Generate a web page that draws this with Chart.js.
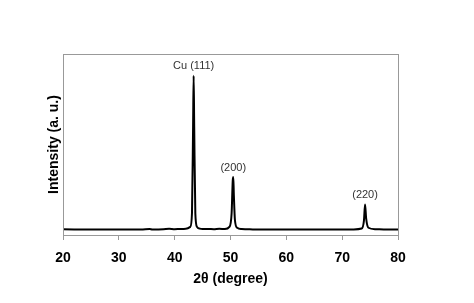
<!DOCTYPE html>
<html>
<head>
<meta charset="utf-8">
<script src="https://cdn.jsdelivr.net/npm/chart.js@4/dist/chart.umd.min.js"></script>
<style>
    html, body { margin: 0; padding: 0; background: #fff; }
    #wrap { width: 474px; height: 303px; }
</style>
</head>
<body>
<div id="wrap"><canvas id="xrdChart" width="474" height="303"></canvas></div>
<script>
// 2theta positions (degree) and intensity (a. u.)
const twoTheta = [20, 22, 24, 26, 28, 30, 32, 34, 35.5, 36, 38, 39, 40, 41, 42, 42.8, 43.1, 43.3, 43.4, 43.5, 43.7, 44, 44.5,
    45, 46, 47, 48, 49, 49.8, 50.2, 50.4, 50.5, 50.6, 50.8, 51.2, 52, 54, 56, 58, 60, 62, 64, 66, 68, 70, 72,
    73.5, 73.9, 74.1, 74.3, 74.7, 76, 78, 80];
const intensity = [3.2, 3.1, 3.0, 3.1, 3.0, 3.0, 3.1, 3.0, 3.3, 3.1, 3.2, 3.4, 3.2, 3.3, 3.4, 4.5, 12, 60, 88, 60, 12, 4.5, 3.5,
    3.3, 3.3, 3.2, 3.4, 3.3, 4.5, 12, 30, 32, 22, 8, 4, 3.3, 3.1, 3.0, 3.0, 3.0, 3.1, 3.0, 3.0, 3.1, 3.0, 3.1,
    3.6, 8, 16.8, 9, 4, 3.2, 3.0, 3.1];

// peak labels
const peakLabels = ['Cu (111)', '(200)', '(220)'];
const peakPos = [43.4, 50.5, 74.1];
const peakHeight = [88, 32, 16.8];

const xTicks = [20, 30, 40, 50, 60, 70, 80];

const points = twoTheta.map((t, i) => ({ x: t, y: intensity[i] }));

const frameAndLabels = {
    id: 'frameAndLabels',
    afterDatasetsDraw(chart) {
        const ctx = chart.ctx;
        const a = chart.chartArea;
        const xs = chart.scales.x, ys = chart.scales.y;
        ctx.save();
        ctx.strokeStyle = '#999';
        ctx.lineWidth = 1;
        ctx.strokeRect(a.left + 0.5, a.top + 0.5, a.right - a.left, a.bottom - a.top);
        ctx.fillStyle = '#333';
        ctx.font = '11px "Liberation Sans", Arial, sans-serif';
        ctx.textAlign = 'center';
        ctx.textBaseline = 'bottom';
        peakLabels.forEach((lbl, i) => {
            ctx.fillText(lbl, xs.getPixelForValue(peakPos[i]), ys.getPixelForValue(peakHeight[i]) - 4);
        });
        ctx.restore();
    }
};

const xrdCtx = document.getElementById('xrdChart').getContext('2d');
const xrdChart = new Chart(xrdCtx, {
    type: 'scatter',
    data: {
        datasets: [{
            data: points,
            showLine: true,
            borderColor: '#000',
            borderWidth: 2,
            pointRadius: 0,
            cubicInterpolationMode: 'monotone'
        }]
    },
    options: {
        responsive: false,
        animation: false,
        layout: {
            padding: { left: 46, right: 76, top: 54, bottom: 15 }
        },
        plugins: {
            legend: { display: false },
            tooltip: { enabled: false }
        },
        scales: {
            x: {
                type: 'linear',
                min: 20,
                max: 80,
                afterBuildTicks: (scale) => { scale.ticks = xTicks.map(v => ({ value: v })); },
                afterFit: (scale) => { scale.height = 53; },
                border: { color: '#999', width: 1 },
                grid: { drawOnChartArea: false, tickLength: 5, color: '#999' },
                ticks: {
                    color: '#000',
                    padding: 10,
                    font: { family: '"Liberation Sans", Arial, sans-serif', size: 14, weight: 'bold' }
                },
                title: {
                    display: true,
                    text: '2θ (degree)',
                    color: '#000',
                    padding: { top: 4, bottom: 0 },
                    font: { family: '"Liberation Sans", Arial, sans-serif', size: 14, weight: 'bold' }
                }
            },
            y: {
                min: 0,
                max: 100,
                afterFit: (scale) => { scale.width = 17; },
                border: { color: '#999', width: 1 },
                grid: { display: false },
                ticks: { display: false },
                title: {
                    display: true,
                    text: 'Intensity (a. u.)',
                    color: '#000',
                    padding: 0,
                    font: { family: '"Liberation Sans", Arial, sans-serif', size: 14, weight: 'bold' }
                }
            }
        }
    },
    plugins: [frameAndLabels]
});
</script>
</body>
</html>
